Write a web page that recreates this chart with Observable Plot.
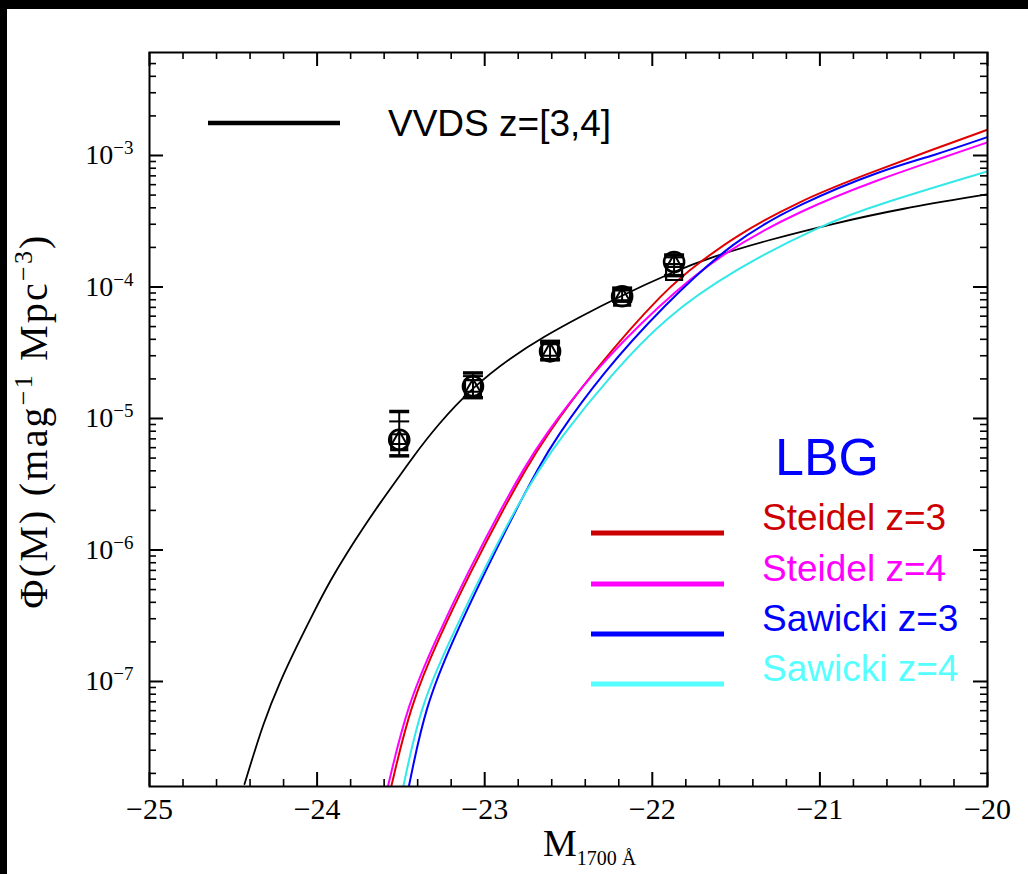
<!DOCTYPE html>
<html><head><meta charset="utf-8">
<script src="https://cdn.jsdelivr.net/npm/d3@7"></script>
<script src="https://cdn.jsdelivr.net/npm/@observablehq/plot@0.6"></script>
<style>
html,body{margin:0;padding:0;background:#fff;width:100%;height:100%;overflow:hidden;}
#wrap{position:fixed;left:0;top:0;right:0;bottom:0;background:#fff;}
#chart{position:absolute;left:0;top:0;}
#bandTop{position:absolute;left:0;top:0;right:0;height:9px;background:#000;}
#bandLeft{position:absolute;left:0;top:0;bottom:0;width:7px;background:#000;}
</style></head><body>
<div id="wrap"><div id="chart"></div><div id="bandTop"></div><div id="bandLeft"></div></div>
<script>
// ---- data ----
// VVDS z=[3,4] fitted LF (black)
const vvdsM   = [-24.433,-24.318,-24.218,-24.119,-24.020,-23.920,-23.820,-23.721,-23.622,-23.522,-23.443,-23.284,-23.065,-22.846,-22.647,-22.428,-22.210,-21.872,-21.653,-21.314,-20.917,-20.519,-20.0];
const vvdsPhi = [1.66e-8,5.0e-8,1.02e-7,1.88e-7,3.37e-7,5.9e-7,9.6e-7,1.5e-6,2.3e-6,3.45e-6,4.8e-6,8.9e-6,1.76e-5,2.9e-5,4.2e-5,5.96e-5,8.3e-5,1.31e-4,1.68e-4,2.27e-4,3.04e-4,3.94e-4,5.07e-4];
// Steidel z=3 (red)
const steidel3M   = [-23.558,-23.443,-23.276,-23.085,-22.878,-22.755,-22.648,-22.362,-21.911,-21.712,-21.514,-21.117,-20.718,-20.320,-20.0];
const steidel3Phi = [1.58e-8,6.61e-8,2.12e-7,6.78e-7,2.17e-6,4.11e-6,6.93e-6,2.22e-5,1.0e-4,1.55e-4,2.40e-4,4.56e-4,7.24e-4,1.12e-3,1.57e-3];
// Steidel z=4 (magenta)
const steidel4M   = [-23.578,-23.462,-23.290,-23.100,-22.893,-22.768,-22.660,-22.360,-21.970,-21.593,-21.117,-20.638,-20.320,-20.0];
const steidel4Phi = [1.58e-8,6.61e-8,2.12e-7,6.78e-7,2.17e-6,4.11e-6,6.93e-6,2.22e-5,7.10e-5,1.80e-4,3.83e-4,6.65e-4,9.12e-4,1.26e-3];
// Sawicki z=3 (blue)
const sawicki3M   = [-23.453,-23.353,-23.186,-22.999,-22.801,-22.684,-22.582,-22.296,-21.938,-21.514,-21.117,-20.638,-20.320,-20.0];
const sawicki3Phi = [1.58e-8,6.61e-8,2.12e-7,6.78e-7,2.17e-6,4.11e-6,6.93e-6,2.22e-5,7.10e-5,2.27e-4,4.31e-4,7.69e-4,1.0e-3,1.38e-3];
// Sawicki z=4 (cyan)
const sawicki4M   = [-23.486,-23.382,-23.203,-23.013,-22.806,-22.674,-22.556,-22.237,-21.918,-21.514,-20.997,-20.638,-20.0];
const sawicki4Phi = [1.58e-8,6.61e-8,2.12e-7,6.78e-7,2.17e-6,4.11e-6,6.93e-6,2.22e-5,5.96e-5,1.35e-4,2.95e-4,4.31e-4,7.57e-4];
// VVDS data points (three estimators) with error bars
const pointM      = [-23.51,-23.07,-22.61,-22.18,-21.87];
const phiCircle   = [6.9e-6,1.76e-5,3.24e-5,8.5e-5,1.55e-4];
const phiTriangle = [6.9e-6,1.72e-5,3.24e-5,8.5e-5,1.53e-4];
const phiSquare   = [6.6e-6,1.70e-5,3.20e-5,8.3e-5,1.30e-4];
const errLow      = [5.2e-6,1.44e-5,2.80e-5,7.8e-5,1.22e-4];
const errHigh     = [1.13e-5,2.22e-5,3.86e-5,9.8e-5,1.75e-4];
const errHigh2    = [9.5e-6,2.10e-5,3.70e-5,9.4e-5,1.68e-4];
// tick labels / legend
const xMajor = [-25,-24,-23,-22,-21,-20];
const yMajor = [1e-7,1e-6,1e-5,1e-4,1e-3];
const legendNames  = ["Steidel z=3","Steidel z=4","Sawicki z=3","Sawicki z=4"];
const legendColors = ["#cc0000","#ff00ff","#0000ff","#55ffff"];
const curveColors  = ["#e00000","#ff00ff","#0000ff","#33e8e8"];

// ---- build ----
const fw = 838, fh = 734;
const xMinor = [];
for (let i = 0; i < 5; i++) for (let j = 1; j < 5; j++) xMinor.push(+(-25 + i + j * 0.2).toFixed(2));
const yMinor = [];
for (let e = -8; e <= -3; e++) for (let k = 2; k <= 9; k++) { const v = k * Math.pow(10, e); if (v > 1.6e-8 && v < 6.0e-3) yMinor.push(v); }

const zip = (M, P) => M.map((m, i) => ({M: m, phi: P[i]}));
const curves = [
  zip(steidel3M, steidel3Phi), zip(steidel4M, steidel4Phi),
  zip(sawicki3M, sawicki3Phi), zip(sawicki4M, sawicki4Phi)
];
const pts = pointM.map((m, i) => ({M: m, c: phiCircle[i], t: phiTriangle[i], s: phiSquare[i], lo: errLow[i], hi: errHigh[i], hi2: errHigh2[i]}));
const cap = {draw(ctx) { ctx.moveTo(-10, 0); ctx.lineTo(10, 0); }};

const plot = Plot.plot({
  width: 1028, height: 874,
  marginLeft: 149, marginRight: 41, marginTop: 52, marginBottom: 88,
  style: {background: "transparent", fontFamily: "'Liberation Serif', serif", fontSize: "28px", color: "#000"},
  x: {domain: [-25, -20]},
  y: {type: "log", domain: [1.59e-8, 6.07e-3]},
  marks: [
    Plot.tickX(xMajor, {x: d => d, insetTop: fh - 14, strokeWidth: 2}),
    Plot.tickX(xMajor, {x: d => d, insetBottom: fh - 14, strokeWidth: 2}),
    Plot.tickX(xMinor, {x: d => d, insetTop: fh - 7, strokeWidth: 1.6}),
    Plot.tickX(xMinor, {x: d => d, insetBottom: fh - 7, strokeWidth: 1.6}),
    Plot.tickY(yMajor, {y: d => d, insetRight: fw - 14, strokeWidth: 2}),
    Plot.tickY(yMajor, {y: d => d, insetLeft: fw - 14, strokeWidth: 2}),
    Plot.tickY(yMinor, {y: d => d, insetRight: fw - 7, strokeWidth: 1.6}),
    Plot.tickY(yMinor, {y: d => d, insetLeft: fw - 7, strokeWidth: 1.6}),
    Plot.axisX(xMajor, {anchor: "bottom", tickSize: 0, tickPadding: 11, label: null, fontSize: 30, tickFormat: d => "\u2212" + Math.abs(d)}),
    Plot.axisY(yMajor, {anchor: "left", tickSize: 0, tickPadding: 16, label: null, tickFormat: d => "10^" + Math.round(Math.log10(d))}),
    Plot.line(zip(vvdsM, vvdsPhi), {x: "M", y: "phi", stroke: "#000", strokeWidth: 1.8, curve: "basis", clip: true}),
    ...curves.map((c, i) => Plot.line(c, {x: "M", y: "phi", stroke: curveColors[i], strokeWidth: 2, curve: "basis", clip: true})),
    Plot.ruleX(pts, {x: "M", y1: "lo", y2: "hi", strokeWidth: 2}),
    Plot.dot(pts, {x: "M", y: "hi", symbol: cap, r: 5, stroke: "#000", strokeWidth: 3.5}),
    Plot.dot(pts, {x: "M", y: "hi2", symbol: cap, r: 5, stroke: "#000", strokeWidth: 2}),
    Plot.dot(pts, {x: "M", y: "lo", symbol: cap, r: 5, stroke: "#000", strokeWidth: 3.5}),
    Plot.dot(pts, {x: "M", y: "s", symbol: "square", r: 9, stroke: "#000", strokeWidth: 2.2, fill: "none"}),
    Plot.dot(pts, {x: "M", y: "c", symbol: "circle", r: 10, stroke: "#000", strokeWidth: 2.6, fill: "none"}),
    Plot.dot(pts, {x: "M", y: "t", symbol: "triangle", r: 5.5, stroke: "#000", strokeWidth: 2, fill: "none"}),
    Plot.frame({stroke: "#000", strokeWidth: 2})
  ]
});
document.getElementById("chart").appendChild(plot);

// superscript exponents on y tick labels
const NS = "http://www.w3.org/2000/svg";
plot.querySelectorAll('g[aria-label="y-axis tick label"] text').forEach(t => {
  const parts = t.textContent.split("^");
  if (parts.length < 2) return;
  t.textContent = parts[0];
  const ts = document.createElementNS(NS, "tspan");
  ts.setAttribute("dy", "-10");
  ts.setAttribute("font-size", "19");
  ts.textContent = "\u2212" + Math.abs(+parts[1]);
  t.appendChild(ts);
});

const svg = d3.select(plot);
// axis titles
const yl = svg.append("text").attr("transform", "translate(47,421) rotate(-90)")
  .attr("text-anchor", "middle").attr("font-family", "'Liberation Serif', serif")
  .attr("font-size", 40).attr("letter-spacing", 2.2).attr("fill", "#000");
yl.append("tspan").text("\u03A6(M) (mag");
yl.append("tspan").attr("dy", -15).attr("font-size", 26).text("\u22121");
yl.append("tspan").attr("dy", 15).text(" Mpc");
yl.append("tspan").attr("dy", -15).attr("font-size", 26).text("\u22123");
yl.append("tspan").attr("dy", 15).text(")");

const xl = svg.append("text").attr("x", 543).attr("y", 856).attr("text-anchor", "start")
  .attr("font-family", "'Liberation Serif', serif").attr("font-size", 38).attr("fill", "#000");
xl.append("tspan").text("M");
xl.append("tspan").attr("dy", 9).attr("font-size", 20).text("1700 \u00C5");

// legends
const sans = "'Liberation Sans', Arial, sans-serif";
svg.append("line").attr("x1", 208).attr("x2", 340).attr("y1", 123).attr("y2", 123).attr("stroke", "#000").attr("stroke-width", 4.5);
svg.append("text").attr("x", 388).attr("y", 136).attr("text-anchor", "start").attr("font-family", sans).attr("font-size", 37).attr("fill", "#000").text("VVDS z=[3,4]");
svg.append("text").attr("x", 775).attr("y", 475).attr("text-anchor", "start").attr("font-family", sans).attr("font-size", 52).attr("fill", "#0000ff").text("LBG");
const lineY = [533, 584, 634, 684];
legendNames.forEach((n, i) => {
  svg.append("line").attr("x1", 591).attr("x2", 724).attr("y1", lineY[i]).attr("y2", lineY[i]).attr("stroke", legendColors[i]).attr("stroke-width", 5);
  svg.append("text").attr("x", 762).attr("y", lineY[i] - 3).attr("text-anchor", "start").attr("font-family", sans).attr("font-size", 37).attr("fill", legendColors[i]).text(n);
});
</script>
</body></html>
